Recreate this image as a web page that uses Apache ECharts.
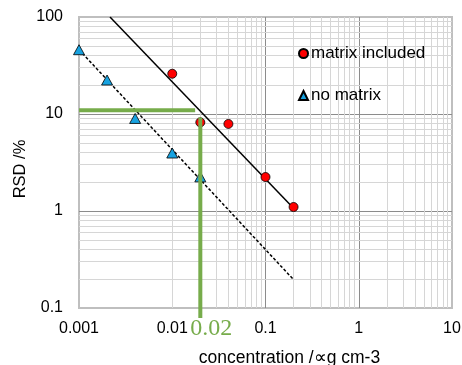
<!DOCTYPE html>
<html>
<head>
<meta charset="utf-8">
<script src="https://cdn.jsdelivr.net/npm/echarts@6/dist/echarts.min.js"></script>
<style>
  html, body { margin: 0; padding: 0; background: #fff; }
  #chart { width: 462px; height: 365px; }
</style>
</head>
<body>
<div id="chart"></div>
<script>
// matrix included (red circles)
const matrixConc = [0.01, 0.02, 0.04, 0.1, 0.2];
const matrixRsd = [26, 8.2, 7.9, 2.24, 1.1];
// no matrix (blue triangles)
const noMatrixConc = [0.001, 0.002, 0.004, 0.01, 0.02];
const noMatrixRsd = [46, 22.4, 9, 3.96, 2.25];
// trendline end points
const matrixTrend = [[0.00215, 100], [0.2, 1.07]];
const noMatrixTrend = [[0.001, 46], [0.2, 0.196]];
// green guide lines
const guideH = [[0.001, 10.9], [0.0176, 10.9]];
const guideV = [[0.02, 9.2], [0.02, 0.079]];
const guideLabel = '0.02';

const xTicks = [0.001, 0.01, 0.1, 1, 10];
const yTicks = [0.1, 1, 10, 100];

// minor grid positions 2..9 in each decade
const minorOf = (ticks) => {
  const out = [];
  for (let i = 0; i < ticks.length - 1; i++) {
    for (let k = 2; k <= 9; k++) out.push(+(ticks[i] * k).toPrecision(3));
  }
  return out;
};
const xMinor = minorOf(xTicks);
const yMinor = minorOf(yTicks);

const FONT = 'Liberation Sans';
const RED = '#ff0000';
const BLUE = '#17a2e0';
const GREEN = '#77ac4b';

const fmt = (v) => String(+(+v).toPrecision(3));

const chart = echarts.init(document.getElementById('chart'));

const pairs = (xs, ys) => xs.map((x, i) => [x, ys[i]]);

chart.setOption({
  animation: false,
  textStyle: { fontFamily: FONT },
  grid: {
    left: 79,
    right: 10,
    top: 17,
    bottom: 57,
    outerBoundsMode: 'none',
    containLabel: false,
    show: true,
    borderColor: '#bfbfbf',
    borderWidth: 2,
  },
  legend: {
    orient: 'vertical',
    left: 293,
    top: 40,
    itemGap: 25,
    itemWidth: 9,
    itemHeight: 9,
    data: ['matrix included', 'no matrix'],
    textStyle: { fontFamily: FONT, fontSize: 17, color: '#000', padding: [0, 0, 0, -2] },
  },
  xAxis: {
    type: 'log',
    logBase: 10,
    min: 0.001,
    max: 10,
    name: 'concentration /\u221dg cm-3',
    nameLocation: 'middle',
    nameGap: 41,
    nameTextStyle: { fontFamily: FONT, fontSize: 17.5, color: '#000', padding: [0, 0, 0, 48] },
    axisLine: { show: false },
    axisTick: { show: false },
    axisLabel: { formatter: fmt, fontFamily: FONT, fontSize: 16, color: '#000', margin: 13 },
    splitLine: { show: true, showMinLine: false, showMaxLine: false, lineStyle: { color: '#8c8c8c', width: 1 } },
  },
  yAxis: {
    type: 'log',
    logBase: 10,
    min: 0.1,
    max: 100,
    name: 'RSD /%',
    nameLocation: 'middle',
    nameGap: 50,
    nameMoveOverlap: false,
    nameTextStyle: { fontFamily: FONT, fontSize: 16.5, color: '#000', padding: [0, 13, 0, 0] },
    axisLine: { show: false },
    axisTick: { show: false },
    axisLabel: { formatter: fmt, fontFamily: FONT, fontSize: 16, color: '#000', margin: 16 },
    splitLine: { show: true, showMinLine: false, showMaxLine: false, lineStyle: { color: '#8c8c8c', width: 1 } },
  },
  series: [
    {
      name: 'minor grid',
      type: 'line',
      data: [],
      silent: true,
      markLine: {
        silent: true,
        z: 1,
        symbol: 'none',
        label: { show: false },
        lineStyle: { color: '#d6d6d6', width: 1, type: 'solid' },
        emphasis: { disabled: true },
        data: xMinor.map((v) => ({ xAxis: v })).concat(yMinor.map((v) => ({ yAxis: v }))),
      },
    },
    {
      name: 'matrix trend',
      type: 'line',
      data: matrixTrend,
      symbol: 'none',
      z: 3,
      lineStyle: { color: '#000', width: 1.5 },
    },
    {
      name: 'no matrix trend',
      type: 'line',
      data: noMatrixTrend,
      symbol: 'none',
      z: 3,
      lineStyle: { color: '#000', width: 1.5, type: [3, 2] },
    },
    {
      name: 'matrix included',
      type: 'scatter',
      data: pairs(matrixConc, matrixRsd),
      symbol: 'circle',
      symbolSize: 9,
      z: 4,
      itemStyle: { color: RED, borderColor: '#000', borderWidth: 0.8, opacity: 1 },
    },
    {
      name: 'no matrix',
      type: 'scatter',
      data: pairs(noMatrixConc, noMatrixRsd),
      symbol: 'triangle',
      symbolSize: [11, 10],
      z: 4,
      itemStyle: { color: BLUE, borderColor: '#000', borderWidth: 0.8, opacity: 1 },
    },
    {
      name: 'guide h',
      type: 'line',
      data: guideH,
      symbol: 'none',
      z: 6,
      lineStyle: { color: GREEN, width: 4, cap: 'butt' },
    },
    {
      name: 'guide v',
      type: 'line',
      clip: false,
      z: 6,
      symbol: 'circle',
      symbolSize: 0.1,
      showSymbol: true,
      itemStyle: { color: 'rgba(0,0,0,0)' },
      lineStyle: { color: GREEN, width: 4, cap: 'butt' },
      data: [
        guideV[0],
        {
          value: guideV[1],
          label: {
            show: true,
            position: 'bottom',
            distance: 0,
            offset: [11, -1],
            formatter: guideLabel,
            fontFamily: 'Liberation Serif',
            fontSize: 24,
            color: GREEN,
          },
        },
      ],
    },
  ],
});
</script>
</body>
</html>
